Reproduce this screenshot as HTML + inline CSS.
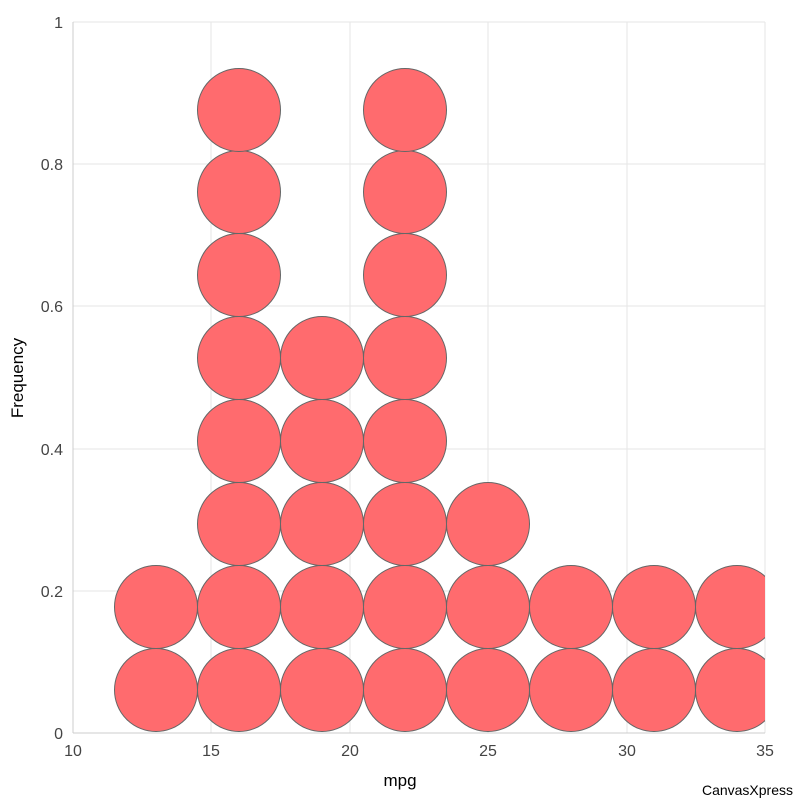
<!DOCTYPE html>
<html><head><style>body{margin:0;background:#fff}</style></head><body>
<svg width="800" height="800" xmlns="http://www.w3.org/2000/svg" font-family="Liberation Sans, sans-serif">
<rect width="800" height="800" fill="#fff"/>
<g stroke="#e6e6e6" stroke-width="1">
<line x1="73" y1="22" x2="765" y2="22"/><line x1="73" y1="164" x2="765" y2="164"/><line x1="73" y1="306" x2="765" y2="306"/><line x1="73" y1="449" x2="765" y2="449"/><line x1="73" y1="591" x2="765" y2="591"/>
<line x1="211" y1="22" x2="211" y2="733"/><line x1="350" y1="22" x2="350" y2="733"/><line x1="488" y1="22" x2="488" y2="733"/><line x1="627" y1="22" x2="627" y2="733"/><line x1="765" y1="22" x2="765" y2="733"/>
</g>
<line x1="73" y1="22" x2="73" y2="733" stroke="#ccc"/><line x1="73" y1="733" x2="765" y2="733" stroke="#ccc"/>
<clipPath id="c"><rect x="73" y="0" width="692" height="733"/></clipPath>
<g clip-path="url(#c)" fill="#ff6b6e" stroke="#666" stroke-width="1">
<circle cx="156" cy="690" r="41.5"/><circle cx="156" cy="607" r="41.5"/>
<circle cx="239" cy="690" r="41.5"/><circle cx="239" cy="607" r="41.5"/><circle cx="239" cy="524" r="41.5"/><circle cx="239" cy="441" r="41.5"/><circle cx="239" cy="358" r="41.5"/><circle cx="239" cy="275" r="41.5"/><circle cx="239" cy="192" r="41.5"/><circle cx="239" cy="110" r="41.5"/>
<circle cx="322" cy="690" r="41.5"/><circle cx="322" cy="607" r="41.5"/><circle cx="322" cy="524" r="41.5"/><circle cx="322" cy="441" r="41.5"/><circle cx="322" cy="358" r="41.5"/>
<circle cx="405" cy="690" r="41.5"/><circle cx="405" cy="607" r="41.5"/><circle cx="405" cy="524" r="41.5"/><circle cx="405" cy="441" r="41.5"/><circle cx="405" cy="358" r="41.5"/><circle cx="405" cy="275" r="41.5"/><circle cx="405" cy="192" r="41.5"/><circle cx="405" cy="110" r="41.5"/>
<circle cx="488" cy="690" r="41.5"/><circle cx="488" cy="607" r="41.5"/><circle cx="488" cy="524" r="41.5"/>
<circle cx="571" cy="690" r="41.5"/><circle cx="571" cy="607" r="41.5"/>
<circle cx="654" cy="690" r="41.5"/><circle cx="654" cy="607" r="41.5"/>
<circle cx="737" cy="690" r="41.5"/><circle cx="737" cy="607" r="41.5"/>
</g>
<g font-size="16" fill="#444" text-anchor="end">
<text x="63" y="28">1</text><text x="63" y="170">0.8</text><text x="63" y="312">0.6</text><text x="63" y="455">0.4</text><text x="63" y="597">0.2</text><text x="63" y="739">0</text>
</g>
<g font-size="16" fill="#444" text-anchor="middle">
<text x="73" y="756">10</text><text x="211" y="756">15</text><text x="350" y="756">20</text><text x="488" y="756">25</text><text x="627" y="756">30</text><text x="765" y="756">35</text>
</g>
<text x="400" y="786" font-size="17" text-anchor="middle" fill="#000">mpg</text>
<text x="0" y="0" font-size="17" text-anchor="middle" fill="#000" transform="translate(23,378) rotate(-90)">Frequency</text>
<text x="793" y="795" font-size="14" text-anchor="end" fill="#000">CanvasXpress</text>
</svg>
</body></html>
